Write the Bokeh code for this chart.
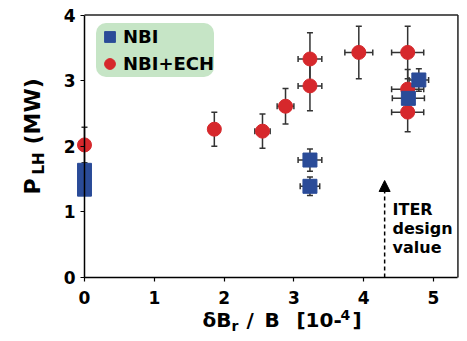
import numpy as np
from bokeh.plotting import figure
from bokeh.models import (ColumnDataSource, Whisker, TeeHead, Label, Arrow, NormalHead,
                          Legend, LegendItem, FixedTicker, Range1d)
from bokeh.embed import file_html
from bokeh.resources import INLINE

# ---------------- data ----------------
ech_x = [0.0, 1.86, 2.55, 2.88, 3.23, 3.23, 3.93, 4.63, 4.63, 4.63]
ech_y = [2.02, 2.26, 2.23, 2.61, 3.33, 2.92, 3.43, 3.43, 2.87, 2.52]
ech_yerr = [0.27, 0.26, 0.26, 0.27, 0.40, 0.38, 0.40, 0.40, 0.30, 0.30]
ech_xerr = [0.0, 0.0, 0.11, 0.12, 0.17, 0.17, 0.20, 0.23, 0.23, 0.23]

nbi_x = [3.23, 3.23, 4.64, 4.79]
nbi_y = [1.79, 1.39, 2.73, 3.01]
nbi_yerr = [0.17, 0.14, 0.15, 0.17]
nbi_xerr = [0.17, 0.14, 0.23, 0.14]

nbi0_x = [0.0]
nbi0_low = [1.24]
nbi0_high = [1.74]

iter_value = 4.30
iter_arrow_top = 1.478

x_ticks = [0, 1, 2, 3, 4, 5]
y_ticks = [0, 1, 2, 3, 4]
X_MAX = 5.35
Y_MAX = 4.0

RED = "#d6282c"
BLUE = "#2a4b98"
GREEN = "#c6e5c6"
FONT = "DejaVu Sans"
INK = "#222222"

# the frame covers the whole canvas; the axes are pinned at x=0 / y=0
p = figure(width=459, height=333,
           x_range=Range1d(-1.2034, 5.3725), y_range=Range1d(-0.8533, 4.2210),
           output_backend="svg", toolbar_location=None,
           min_border=0, min_border_left=0, min_border_right=0,
           min_border_top=0, min_border_bottom=0)
p.xgrid.visible = False
p.ygrid.visible = False
p.outline_line_color = None
p.background_fill_color = "white"
p.border_fill_color = "white"

p.xaxis.fixed_location = 0
p.yaxis.fixed_location = 0
p.xaxis.bounds = (0, X_MAX)
p.yaxis.bounds = (0, Y_MAX)
for ax, ticks in ((p.xaxis[0], x_ticks), (p.yaxis[0], y_ticks)):
    ax.ticker = FixedTicker(ticks=ticks)
    ax.axis_line_color = "black"
    ax.axis_line_width = 1.5
    ax.major_tick_in = 0
    ax.major_tick_out = 4
    ax.major_tick_line_width = 1.2
    ax.minor_tick_line_color = None
    ax.major_label_text_font = FONT
    ax.major_label_text_font_style = "bold"
    ax.major_label_text_font_size = "17px"
    ax.major_label_text_color = "black"
p.xaxis.major_label_standoff = 9
p.yaxis.major_label_standoff = 5

# top and right sides of the box
p.segment(x0=[0, X_MAX], y0=[Y_MAX, 0], x1=[X_MAX, X_MAX], y1=[Y_MAX, Y_MAX],
          line_color=INK, line_width=1.5)

# ---------------- error bars ----------------
def _whisker(src, base, dim):
    return Whisker(source=src, base=base, lower="lo", upper="hi", dimension=dim,
                   line_color="#333333", line_width=1.5, level="underlay",
                   upper_head=TeeHead(size=6, line_color="#333333", line_width=1.5),
                   lower_head=TeeHead(size=6, line_color="#333333", line_width=1.5))

def add_yerr(xs, ys, es):
    src = ColumnDataSource(dict(x=xs, lo=[y - e for y, e in zip(ys, es)],
                                hi=[y + e for y, e in zip(ys, es)]))
    p.add_layout(_whisker(src, "x", "height"))

def add_xerr(xs, ys, es):
    pts = [(x, y, e) for x, y, e in zip(xs, ys, es) if e > 0]
    src = ColumnDataSource(dict(y=[q[1] for q in pts], lo=[q[0] - q[2] for q in pts],
                                hi=[q[0] + q[2] for q in pts]))
    p.add_layout(_whisker(src, "y", "width"))

add_yerr(ech_x, ech_y, ech_yerr)
add_xerr(ech_x, ech_y, ech_xerr)
add_yerr(nbi_x, nbi_y, nbi_yerr)
add_xerr(nbi_x, nbi_y, nbi_xerr)

# ---------------- markers ----------------
r_ech = p.scatter(ech_x, ech_y, marker="circle", size=14, fill_color=RED, line_color=RED)
p.vbar(x=nbi0_x, bottom=nbi0_low, top=nbi0_high, width=0.2, fill_color=BLUE, line_color=BLUE)
r_nbi = p.scatter(nbi_x, nbi_y, marker="square", size=14, fill_color=BLUE, line_color=BLUE)

# ---------------- legend ----------------
legend = Legend(items=[LegendItem(label="NBI", renderers=[r_nbi]),
                       LegendItem(label="NBI+ECH", renderers=[r_ech])],
                location=(96, 256), background_fill_color=GREEN, background_fill_alpha=1.0,
                border_line_color=None, label_text_font=FONT, label_text_font_style="bold",
                label_text_font_size="18px", label_text_color="black",
                glyph_width=27, glyph_height=27, label_height=20,
                spacing=-7, padding=4, label_standoff=0, margin=0)
if "border_radius" in Legend.properties():
    legend.border_radius = 10
p.add_layout(legend)

# ---------------- ITER arrow ----------------
arrow = Arrow(x_start=iter_value, y_start=0, x_end=iter_value, y_end=iter_arrow_top,
              line_color="black", line_width=1.5, line_dash="4 3",
              end=NormalHead(size=11, fill_color="black", line_color="black"))
p.add_layout(arrow)
p.add_layout(Label(x=iter_value + 0.113, y=1.181, text="ITER\ndesign\nvalue",
                   text_font=FONT, text_font_style="bold", text_font_size="16px",
                   text_color="black", text_baseline="top", text_align="left",
                   text_line_height=1.0))

# ---------------- axis titles ----------------
def lab(x, y, t, size, angle=0.0):
    p.add_layout(Label(x=x, y=y, text=t, angle=angle, text_font=FONT, text_font_style="bold",
                       text_font_size=size, text_color="black",
                       text_align="left", text_baseline="middle"))

# y title: P_LH (MW), reading upward
lab(-0.741, 1.265, "P", "22px", np.pi / 2)
lab(-0.648, 1.570, "LH", "15px", np.pi / 2)
lab(-0.741, 2.027, "(MW)", "22px", np.pi / 2)

# x title: δB_r / B [10-4]
lab(1.691, -0.655, "δB", "20px")
lab(2.106, -0.732, "r", "14px")
lab(2.321, -0.655, "/", "20px")
lab(2.579, -0.655, "B", "20px")
lab(3.037, -0.655, "[10-", "20px")
lab(3.668, -0.564, "4", "14px")
lab(3.840, -0.655, "]", "20px")

open("out.html", "w").write(file_html(p, INLINE))
